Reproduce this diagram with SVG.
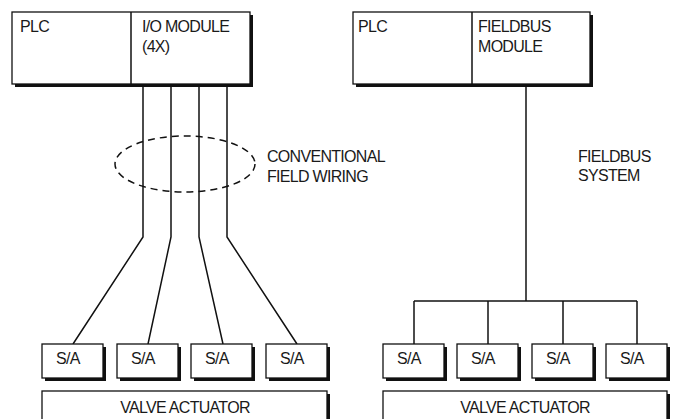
<svg xmlns="http://www.w3.org/2000/svg" width="674" height="419" viewBox="0 0 674 419">
<style>
.box{fill:#fff;stroke:#111;stroke-width:1.3}
.sh{fill:#111}
.w{fill:none;stroke:#111;stroke-width:1.5}
text{font-family:"Liberation Sans",Arial,sans-serif;font-size:16px;letter-spacing:-0.7px;fill:#1a1a1a}
.c{text-anchor:middle}
</style>
<rect width="674" height="419" fill="#fff"/>
<g id="plc-left">
<rect class="sh" x="15" y="15" width="238" height="72"/>
<rect class="box" x="12" y="12" width="238" height="72"/>
<line class="w" x1="131" y1="12" x2="131" y2="84"/>
<text x="20" y="32">PLC</text>
<text x="142" y="32">I/O MODULE</text>
<text x="142" y="52">(4X)</text>
</g>
<g id="plc-right">
<rect class="sh" x="356" y="15" width="237" height="72"/>
<rect class="box" x="353" y="12" width="237" height="72"/>
<line class="w" x1="472" y1="12" x2="472" y2="84"/>
<text x="358" y="32">PLC</text>
<text x="478" y="32">FIELDBUS</text>
<text x="478" y="52">MODULE</text>
</g>
<g id="connectors">
<polyline class="w" points="143,85 143,237 73,344"/>
<polyline class="w" points="171,85 171,237 148,344"/>
<polyline class="w" points="199,85 199,237 223,344"/>
<polyline class="w" points="227,85 227,237 297,344"/>
<ellipse cx="185" cy="164" rx="70" ry="28" fill="none" stroke="#111" stroke-width="1.5" stroke-dasharray="7,5"/>
<line class="w" x1="526" y1="85" x2="526" y2="301"/>
<line class="w" x1="414" y1="301" x2="637" y2="301"/>
<line class="w" x1="414" y1="301" x2="414" y2="344"/>
<line class="w" x1="488" y1="301" x2="488" y2="344"/>
<line class="w" x1="563" y1="301" x2="563" y2="344"/>
<line class="w" x1="637" y1="301" x2="637" y2="344"/>
</g>
<g id="labels">
<text x="267" y="162">CONVENTIONAL</text>
<text x="267" y="182">FIELD WIRING</text>
<text x="578" y="162">FIELDBUS</text>
<text x="578" y="181">SYSTEM</text>
</g>
<g id="sa-l1"><rect class="sh" x="45" y="347" width="61" height="34"/><rect class="box" x="42" y="344" width="61" height="34"/><text x="56" y="364">S/A</text></g>
<g id="sa-l2"><rect class="sh" x="120" y="347" width="61" height="34"/><rect class="box" x="117" y="344" width="61" height="34"/><text x="131" y="364">S/A</text></g>
<g id="sa-l3"><rect class="sh" x="194" y="347" width="61" height="34"/><rect class="box" x="191" y="344" width="61" height="34"/><text x="205" y="364">S/A</text></g>
<g id="sa-l4"><rect class="sh" x="269" y="347" width="61" height="34"/><rect class="box" x="266" y="344" width="61" height="34"/><text x="280" y="364">S/A</text></g>
<g id="sa-r1"><rect class="sh" x="386" y="347" width="61" height="34"/><rect class="box" x="383" y="344" width="61" height="34"/><text x="397" y="364">S/A</text></g>
<g id="sa-r2"><rect class="sh" x="460" y="347" width="61" height="34"/><rect class="box" x="457" y="344" width="61" height="34"/><text x="471" y="364">S/A</text></g>
<g id="sa-r3"><rect class="sh" x="535" y="347" width="61" height="34"/><rect class="box" x="532" y="344" width="61" height="34"/><text x="546" y="364">S/A</text></g>
<g id="sa-r4"><rect class="sh" x="609" y="347" width="61" height="34"/><rect class="box" x="606" y="344" width="61" height="34"/><text x="620" y="364">S/A</text></g>
<g id="valve-left"><rect class="sh" x="45" y="394" width="285" height="40"/><rect class="box" x="42" y="391" width="285" height="40"/><text class="c" x="185" y="413">VALVE ACTUATOR</text></g>
<g id="valve-right"><rect class="sh" x="386" y="394" width="284" height="40"/><rect class="box" x="383" y="391" width="284" height="40"/><text class="c" x="525" y="413">VALVE ACTUATOR</text></g>
</svg>
